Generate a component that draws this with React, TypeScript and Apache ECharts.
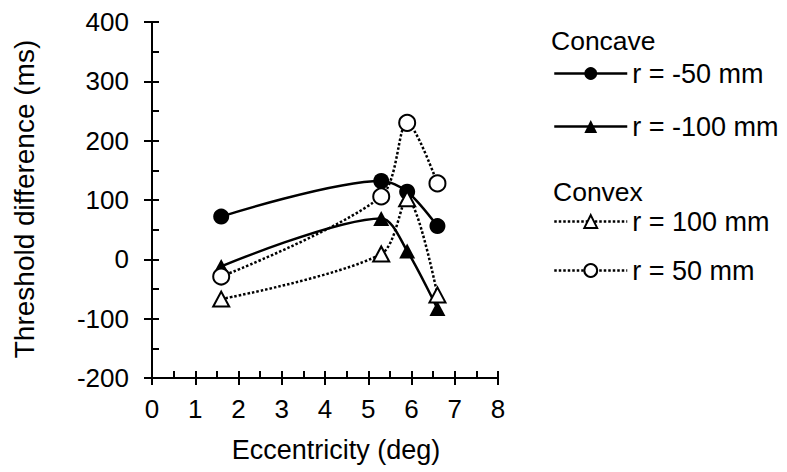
import React, { useEffect, useRef } from "react";
import * as echarts from "echarts";

const eccentricity = [1.6, 5.3, 5.9, 6.6];
const concaveNeg50 = [72, 132, 114, 56];
const concaveNeg100 = [-12, 69, 14, -83];
const convex100 = [-67, 9, 102, -60];
const convex50 = [-29, 106, 230, 128];
const seriesNames = ["r = -50 mm", "r = -100 mm", "r = 100 mm", "r = 50 mm"];
const groupLabels = ["Concave", "Convex"];
const xTitle = "Eccentricity (deg)";
const yTitle = "Threshold difference (ms)";

const FONT = "'Liberation Sans', Arial, sans-serif";
const BLACK = "#000";

export default function App() {
  const ref = useRef<HTMLDivElement>(null);
  useEffect(() => {
    if (!ref.current) return;
    const chart = echarts.init(ref.current, undefined, { renderer: "svg" });
    const tickLine = { color: BLACK, width: 2 };
    const pts = (vals: number[]) => eccentricity.map((x, i) => [x, vals[i]]);
    const solid = { color: BLACK, width: 2.5, type: "solid" as const };
    const dotted = { color: BLACK, width: 2.5, type: [2.5, 2] as any };
    const filled = { color: BLACK };
    const open = { color: "#fff", borderColor: BLACK, borderWidth: 2 };
    const legendBase = {
      orient: "vertical" as const,
      left: 553,
      padding: 0,
      itemWidth: 73,
      itemHeight: 16,
      selectedMode: false,
      lineStyle: { width: 2.5 },
      textStyle: { fontSize: 27, color: BLACK, fontFamily: FONT },
    };
    chart.setOption({
      animation: false,
      backgroundColor: "#fff",
      textStyle: { fontFamily: FONT },
      grid: { left: 152, top: 22, width: 346, height: 356, containLabel: false },
      xAxis: [
        {
          type: "value",
          min: 0,
          max: 8,
          interval: 1,
          axisLine: { show: true, onZero: false, lineStyle: tickLine },
          axisTick: { show: true, inside: true, length: 7, lineStyle: tickLine },
          minorTick: { show: true, splitNumber: 2, length: 7, lineStyle: tickLine },
          splitLine: { show: false },
          axisLabel: { color: BLACK, fontSize: 26, fontFamily: FONT, margin: 18 },
        },
        {
          type: "value",
          min: 0,
          max: 8,
          interval: 1,
          position: "bottom",
          axisLine: { show: false, onZero: false },
          axisTick: { show: true, inside: false, length: 7, lineStyle: tickLine },
          splitLine: { show: false },
          axisLabel: { show: false },
        },
      ],
      yAxis: [
        {
          type: "value",
          min: -200,
          max: 400,
          interval: 100,
          axisLine: { show: true, onZero: false, lineStyle: tickLine },
          axisTick: { show: true, inside: true, length: 7, lineStyle: tickLine },
          minorTick: { show: true, splitNumber: 2, length: 7, lineStyle: tickLine },
          splitLine: { show: false },
          axisLabel: { color: BLACK, fontSize: 26, fontFamily: FONT, margin: 23 },
        },
        {
          type: "value",
          min: -200,
          max: 400,
          interval: 100,
          position: "left",
          axisLine: { show: false, onZero: false },
          axisTick: { show: true, inside: false, length: 8, lineStyle: tickLine },
          splitLine: { show: false },
          axisLabel: { show: false },
        },
      ],
      legend: [
        { ...legendBase, top: 60, itemGap: 26, data: [seriesNames[0], seriesNames[1]] },
        { ...legendBase, top: 208, itemGap: 22, data: [seriesNames[2], seriesNames[3]] },
      ],
      graphic: [
        {
          type: "text",
          x: 551,
          y: 41,
          style: { text: groupLabels[0], fontSize: 26.5, fontFamily: FONT, fill: BLACK, textAlign: "left", textVerticalAlign: "middle" },
        },
        {
          type: "text",
          x: 553,
          y: 192,
          style: { text: groupLabels[1], fontSize: 26.5, fontFamily: FONT, fill: BLACK, textAlign: "left", textVerticalAlign: "middle" },
        },
        {
          type: "text",
          x: 336,
          y: 450,
          style: { text: xTitle, fontSize: 27, fontFamily: FONT, fill: BLACK, textAlign: "center", textVerticalAlign: "middle" },
        },
        {
          type: "text",
          x: 24,
          y: 199,
          rotation: Math.PI / 2,
          style: { text: yTitle, fontSize: 28, fontFamily: FONT, fill: BLACK, textAlign: "center", textVerticalAlign: "middle" },
        },
      ],
      series: [
        {
          name: seriesNames[0],
          type: "line",
          xAxisIndex: 0,
          yAxisIndex: 0,
          data: pts(concaveNeg50),
          smooth: 0.3,
          symbol: "circle",
          symbolSize: 16,
          lineStyle: solid,
          itemStyle: filled,
          z: 2,
        },
        {
          name: seriesNames[1],
          type: "line",
          xAxisIndex: 0,
          yAxisIndex: 0,
          data: pts(concaveNeg100),
          smooth: 0.3,
          symbol: "triangle",
          symbolSize: [16, 15],
          lineStyle: solid,
          itemStyle: filled,
          z: 2,
        },
        {
          name: seriesNames[2],
          type: "line",
          xAxisIndex: 0,
          yAxisIndex: 0,
          data: pts(convex100),
          smooth: 0.3,
          symbol: "triangle",
          symbolSize: [16, 15],
          lineStyle: dotted,
          itemStyle: open,
          z: 3,
        },
        {
          name: seriesNames[3],
          type: "line",
          xAxisIndex: 0,
          yAxisIndex: 0,
          data: pts(convex50),
          smooth: 0.3,
          symbol: "circle",
          symbolSize: 16,
          lineStyle: dotted,
          itemStyle: open,
          z: 3,
        },
      ],
    });
    return () => chart.dispose();
  }, []);
  return (
    <div
      ref={ref}
      style={{ position: "fixed", left: 0, top: 0, width: 787, height: 472, background: "#fff" }}
    />
  );
}
